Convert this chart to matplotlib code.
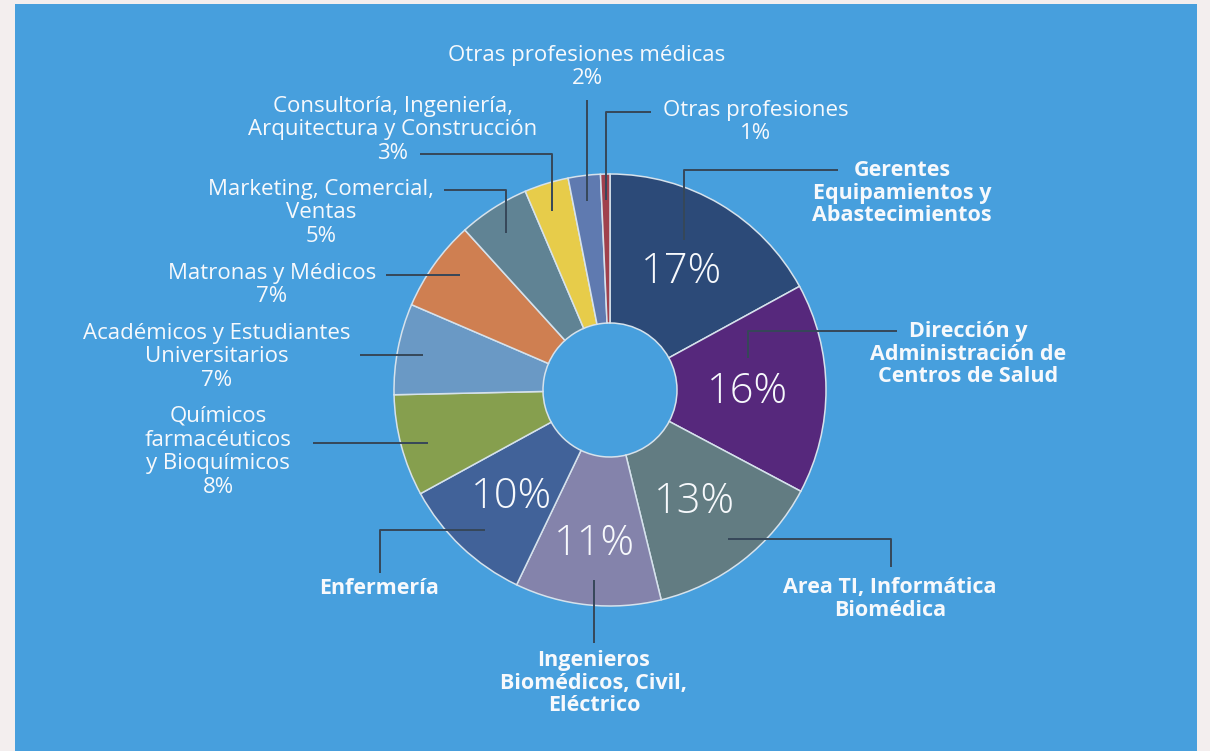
import numpy as np
import matplotlib
matplotlib.use('Agg')
from matplotlib import pyplot as plt
from matplotlib.patches import Rectangle

plt.rcParams['font.family'] = ['Open Sans', 'DejaVu Sans']

# datos (porcentaje por área)
categorias = [
    'Gerentes\nEquipamientos y\nAbastecimientos',
    'Dirección y\nAdministración de\nCentros de Salud',
    'Area TI, Informática\nBiomédica',
    'Ingenieros\nBiomédicos, Civil,\nEléctrico',
    'Enfermería',
    'Químicos\nfarmacéuticos\ny Bioquímicos',
    'Académicos y Estudiantes\nUniversitarios',
    'Matronas y Médicos',
    'Marketing, Comercial,\nVentas',
    'Consultoría, Ingeniería,\nArquitectura y Construcción',
    'Otras profesiones médicas',
    'Otras profesiones',
]
valores = [17.0, 15.7, 13.4, 10.9, 9.9, 7.6, 6.8, 6.8, 5.3, 3.3, 2.4, 0.7]
colores = ['#2c4a78', '#56287c', '#627c82', '#8483ab', '#416299', '#869f4e',
           '#6a99c5', '#cf7f51', '#608394', '#e7cc4a', '#5f7ab0', '#a0414d']

W, H = 1210, 751
CX, CY = 610, 390          # centro del donut (px, y hacia abajo)
R, R_IN = 216, 67
FONDO = '#479fdd'
LINEA = '#364759'
BLANCO = '#f7f9fc'

# disposición de las etiquetas:
# (radio %, ajuste ángulo, radio inicio, tipo, codo, fin, x texto, y texto, negrita)
layout = [
    (141, 4.5, 167, 'vh', 170, 838, 902, 193, True),
    (137, 12.8, 142, 'vh', 331, 897, 968, 354, True),
    (138, 0.4, 190, 'hv', 891, 567, 890, 599, True),
    (152, 1.0, 191, 'v', 643, None, 594, 683, True),
    (143, 1.7, 188, 'hv', 380, 573, 379, 589, True),
    (0, 1.2, 190, 'h', 313, None, 218, 452, False),
    (0, 0.4, 190, 'h', 360, None, 217, 357, False),
    (0, -2.0, 189, 'h', 386, None, 272, 285, False),
    (0, 0.8, 188, 'vh', 190, 444, 321, 213, False),
    (0, 0.9, 188, 'vh', 154, 420, 393, 130, False),
    (0, 0.0, 190, 'v', 100, None, 587, 67, False),
    (0, 0.0, 190, 'vh', 112, 651, 756, 122, False),
]

fig = plt.figure(figsize=(W / 100, H / 100), dpi=100, facecolor='#f3eeee')
ax = fig.add_axes([0, 0, 1, 1])
ax.patch.set_alpha(0)
ax.add_patch(Rectangle((15, 0), 1182, H - 4, facecolor=FONDO, edgecolor='none', zorder=0))

wedges, _ = ax.pie(valores, colors=colores, startangle=90, counterclock=False,
                   center=(CX, H - CY), radius=R,
                   wedgeprops=dict(width=R - R_IN, edgecolor='#d6e2ec', linewidth=1.1, zorder=2))
ax.set_xlim(0, W)
ax.set_ylim(0, H)
ax.set_aspect('equal')
ax.axis('off')

for w, cat, v, lay in zip(wedges, categorias, valores, layout):
    mid = (w.theta1 + w.theta2) / 2
    rp, dang, r0, kind, a, b, tx, ty, bold = lay
    # porcentaje grande dentro de los sectores mayores
    if rp:
        ax.text(CX + rp * np.cos(np.radians(mid)), H - CY + rp * np.sin(np.radians(mid)) - 3,
                f'{round(v)}%', ha='center', va='center', fontsize=30, fontweight='light',
                color=BLANCO, zorder=4)
    ang = np.radians(mid + dang)
    x0 = CX + r0 * np.cos(ang)
    y0 = CY - r0 * np.sin(ang)
    if kind == 'vh':
        xs, ys = [x0, x0, b], [y0, a, a]
    elif kind == 'hv':
        xs, ys = [x0, a, a], [y0, y0, b]
    elif kind == 'v':
        xs, ys = [x0, x0], [y0, a]
    else:
        xs, ys = [x0, a], [y0, y0]
    ax.plot(xs, [H - y for y in ys], color=LINEA, lw=1.4, solid_capstyle='butt', zorder=3)
    txt = cat if bold else f'{cat}\n{round(v)}%'
    ax.text(tx, H - ty, txt, ha='center', va='center', multialignment='center',
            fontsize=15.5 if bold else 16, fontweight='bold' if bold else 'normal',
            color=BLANCO, linespacing=1.08 if bold else 1.18, zorder=4)

fig.savefig('out.png', dpi=100, facecolor=fig.get_facecolor())
